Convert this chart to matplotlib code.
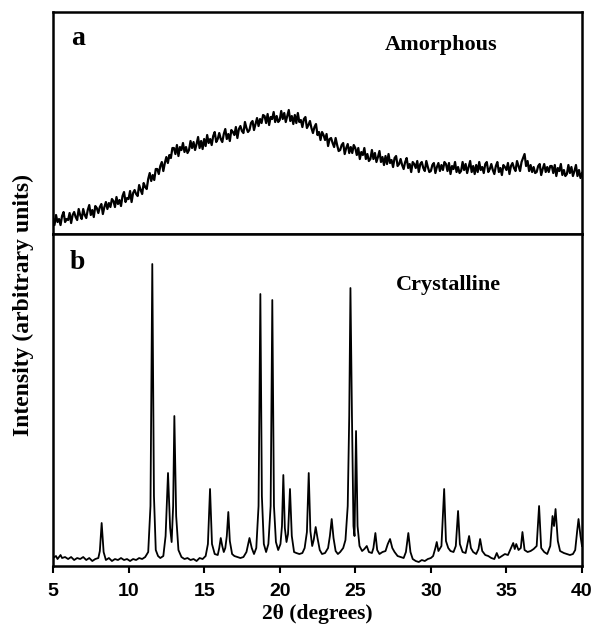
import numpy as np
import matplotlib
matplotlib.use("Agg")
import matplotlib.pyplot as plt

# amorphous pattern, 5.0 .. 40.0 deg in 0.1 steps
amorph_start = 5.0
amorph_step = 0.1
amorph_counts = [
    16, 9, 19, 12, 15, 9, 18, 22, 12, 15,
    14, 21, 11, 19, 22, 17, 14, 25, 19, 15,
    25, 19, 16, 24, 29, 19, 24, 17, 28, 26,
    21, 27, 30, 20, 27, 32, 25, 31, 27, 35,
    33, 27, 37, 30, 34, 28, 38, 42, 32, 36,
    35, 43, 32, 41, 44, 40, 38, 49, 44, 40,
    51, 47, 45, 55, 61, 53, 59, 54, 65, 65,
    60, 68, 72, 63, 71, 77, 71, 79, 76, 86,
    86, 80, 89, 78, 87, 84, 91, 82, 87, 81,
    84, 93, 86, 92, 84, 90, 97, 86, 93, 85,
    95, 88, 99, 91, 95, 89, 98, 102, 92, 95,
    101, 95, 92, 100, 105, 95, 100, 93, 104, 102,
    99, 107, 96, 105, 108, 103, 101, 112, 106, 102,
    104, 111, 113, 104, 110, 116, 108, 115, 111, 119,
    118, 111, 120, 109, 117, 115, 122, 112, 118, 112,
    114, 123, 115, 121, 112, 118, 124, 113, 118, 110,
    119, 111, 121, 112, 114, 107, 115, 117, 106, 109,
    113, 106, 101, 107, 110, 99, 102, 94, 102, 99,
    94, 100, 88, 95, 96, 91, 87, 96, 89, 83,
    84, 89, 91, 80, 86, 90, 81, 87, 81, 89,
    86, 79, 86, 75, 82, 79, 86, 75, 80, 73,
    75, 84, 75, 81, 72, 77, 83, 72, 77, 69,
    78, 70, 80, 71, 74, 67, 76, 78, 68, 70,
    75, 69, 65, 72, 76, 66, 70, 62, 72, 70,
    66, 73, 62, 70, 72, 66, 63, 73, 67, 62,
    63, 69, 71, 61, 67, 71, 63, 69, 64, 72,
    70, 63, 71, 60, 68, 65, 72, 62, 67, 61,
    63, 72, 64, 70, 61, 67, 73, 62, 68, 60,
    69, 62, 72, 64, 67, 61, 70, 72, 62, 65,
    70, 64, 60, 68, 72, 62, 66, 59, 69, 67,
    64, 71, 60, 68, 71, 66, 63, 73, 68, 63,
    72, 76, 80, 68, 73, 63, 69, 62, 67, 61,
    62, 68, 70, 59, 65, 70, 62, 67, 62, 68,
    68, 61, 69, 58, 66, 63, 70, 59, 64, 58,
    60, 69, 61, 67, 58, 63, 69, 58, 64, 56,
    61,
]

# crystalline pattern: baseline and peak points
cryst_2theta = [
    5.0, 5.2, 5.3, 5.5, 5.6, 5.8, 6.0, 6.2, 6.4, 6.6, 6.8, 7.0, 7.2, 7.4, 7.6, 7.8,
    8.0, 8.1, 8.22, 8.35, 8.5, 8.7, 8.9, 9.1, 9.3, 9.5, 9.7, 9.9, 10.1, 10.3, 10.5,
    10.7, 10.9, 11.1, 11.3, 11.45, 11.57, 11.68, 11.8, 11.95, 12.1, 12.3, 12.45,
    12.61, 12.75, 12.85, 12.95, 13.03, 13.15, 13.3, 13.5, 13.7, 13.9, 14.1, 14.3,
    14.5, 14.7, 14.9, 15.1, 15.25, 15.39, 15.52, 15.7, 15.9, 16.0, 16.1, 16.2, 16.3,
    16.4, 16.5, 16.6, 16.7, 16.85, 17.0, 17.2, 17.4, 17.6, 17.8, 18.0, 18.15, 18.3,
    18.45, 18.6, 18.72, 18.82, 18.95, 19.1, 19.25, 19.4, 19.51, 19.62, 19.75, 19.9,
    20.05, 20.15, 20.24, 20.34, 20.45, 20.55, 20.68, 20.8, 20.95, 21.1, 21.3, 21.5,
    21.65, 21.8, 21.92, 22.03, 22.15, 22.25, 22.38, 22.5, 22.65, 22.8, 23.0, 23.2,
    23.32, 23.44, 23.56, 23.7, 23.85, 24.0, 24.2, 24.35, 24.5, 24.6, 24.68, 24.78,
    24.88, 24.95, 25.05, 25.15, 25.28, 25.45, 25.6, 25.76, 25.9, 26.1, 26.2, 26.33,
    26.45, 26.6, 26.8, 27.0, 27.15, 27.3, 27.45, 27.6, 27.8, 28.0, 28.2, 28.35,
    28.51, 28.65, 28.8, 29.0, 29.2, 29.4, 29.6, 29.8, 30.0, 30.15, 30.3, 30.39,
    30.5, 30.7, 30.88, 31.0, 31.15, 31.3, 31.5, 31.65, 31.8, 31.92, 32.1, 32.3,
    32.53, 32.65, 32.8, 33.0, 33.15, 33.26, 33.4, 33.6, 33.8, 34.0, 34.2, 34.36,
    34.5, 34.7, 34.9, 35.1, 35.3, 35.45, 35.55, 35.65, 35.8, 35.95, 36.06, 36.2,
    36.4, 36.6, 36.8, 37.0, 37.16, 37.3, 37.5, 37.7, 37.9, 38.05, 38.15, 38.25,
    38.4, 38.55, 38.8, 39.0, 39.2, 39.4, 39.55, 39.68, 39.77, 39.9, 40.0,
]
cryst_counts = [
    8, 10, 7, 11, 8, 9, 7, 9, 6, 8, 7, 9, 6, 8, 5, 7,
    8, 15, 43, 14, 6, 8, 5, 7, 6, 8, 6, 7, 5, 7, 6,
    8, 7, 9, 14, 60, 302, 70, 16, 10, 8, 10, 30,
    93, 38, 24, 60, 150, 50, 16, 9, 7, 8, 6, 7,
    5, 8, 7, 10, 22, 77, 22, 12, 11, 18, 28, 20, 14,
    18, 30, 54, 25, 12, 10, 9, 8, 9, 14, 28, 18, 12,
    18, 60, 272, 70, 22, 14, 22, 60, 266, 60, 24, 16,
    22, 40, 91, 38, 24, 32, 77, 30, 14, 13, 12, 13,
    18, 34, 93, 35, 20, 26, 39, 28, 16, 12, 13, 18,
    30, 47, 28, 15, 12, 14, 18, 26, 60, 150, 278, 150,
    40, 30, 135, 40, 20, 15, 17, 20, 14, 13, 18, 33,
    16, 12, 14, 15, 22, 27, 18, 14, 10, 9, 8, 14,
    33, 14, 7, 5, 4, 6, 5, 7, 8, 10, 18, 24,
    15, 20, 77, 25, 18, 15, 14, 20, 55, 22, 14, 13,
    30, 18, 14, 12, 17, 27, 15, 11, 10, 8, 7, 13,
    8, 10, 12, 11, 18, 23, 17, 22, 16, 18, 34, 16,
    14, 15, 17, 20, 60, 18, 14, 12, 20, 50, 40, 57,
    25, 15, 13, 12, 11, 12, 16, 35, 47, 30, 20,
]

x_ticks = [5, 10, 15, 20, 25, 30, 35, 40]

amorph_2theta = amorph_start + amorph_step * np.arange(len(amorph_counts))

serif = "Liberation Serif"
sans = "Liberation Sans"

fig = plt.figure(figsize=(5.94, 6.32), dpi=100)
ax_a = fig.add_axes([0.0892, 0.6297, 0.8906, 0.3513])
ax_b = fig.add_axes([0.0892, 0.1044, 0.8906, 0.5253], sharex=ax_a)

ax_a.plot(amorph_2theta, amorph_counts, color="black", lw=1.6)
ax_b.plot(cryst_2theta, cryst_counts, color="black", lw=1.3)

ax_a.set_ylim(0, 222)
ax_b.set_ylim(0, 332)
ax_b.set_xlim(5, 40)

for ax in (ax_a, ax_b):
    ax.set_yticks([])
    for sp in ax.spines.values():
        sp.set_linewidth(1.8)

ax_a.tick_params(axis="x", bottom=False, labelbottom=False)
ax_b.set_xticks(x_ticks)
ax_b.tick_params(axis="x", direction="out", length=5, width=1.5, pad=7)
for lab in ax_b.get_xticklabels():
    lab.set_fontfamily(sans)
    lab.set_fontweight("bold")
    lab.set_fontsize(14)

ax_b.set_xlabel("2θ (degrees)", fontfamily=serif, fontweight="bold", fontsize=15.5, labelpad=3)
fig.text(0.04, 0.517, "Intensity (arbitrary units)", rotation=90, ha="center", va="center",
         fontfamily=serif, fontweight="bold", fontsize=17)

ax_a.text(0.047, 0.88, "a", transform=ax_a.transAxes, ha="center", va="center",
          fontfamily=serif, fontweight="bold", fontsize=20)
ax_a.text(0.733, 0.85, "Amorphous", transform=ax_a.transAxes, ha="center", va="center",
          fontfamily=serif, fontweight="bold", fontsize=16)
ax_b.text(0.047, 0.915, "b", transform=ax_b.transAxes, ha="center", va="center",
          fontfamily=serif, fontweight="bold", fontsize=20)
ax_b.text(0.747, 0.845, "Crystalline", transform=ax_b.transAxes, ha="center", va="center",
          fontfamily=serif, fontweight="bold", fontsize=16)

fig.savefig("out.png", dpi=100)
